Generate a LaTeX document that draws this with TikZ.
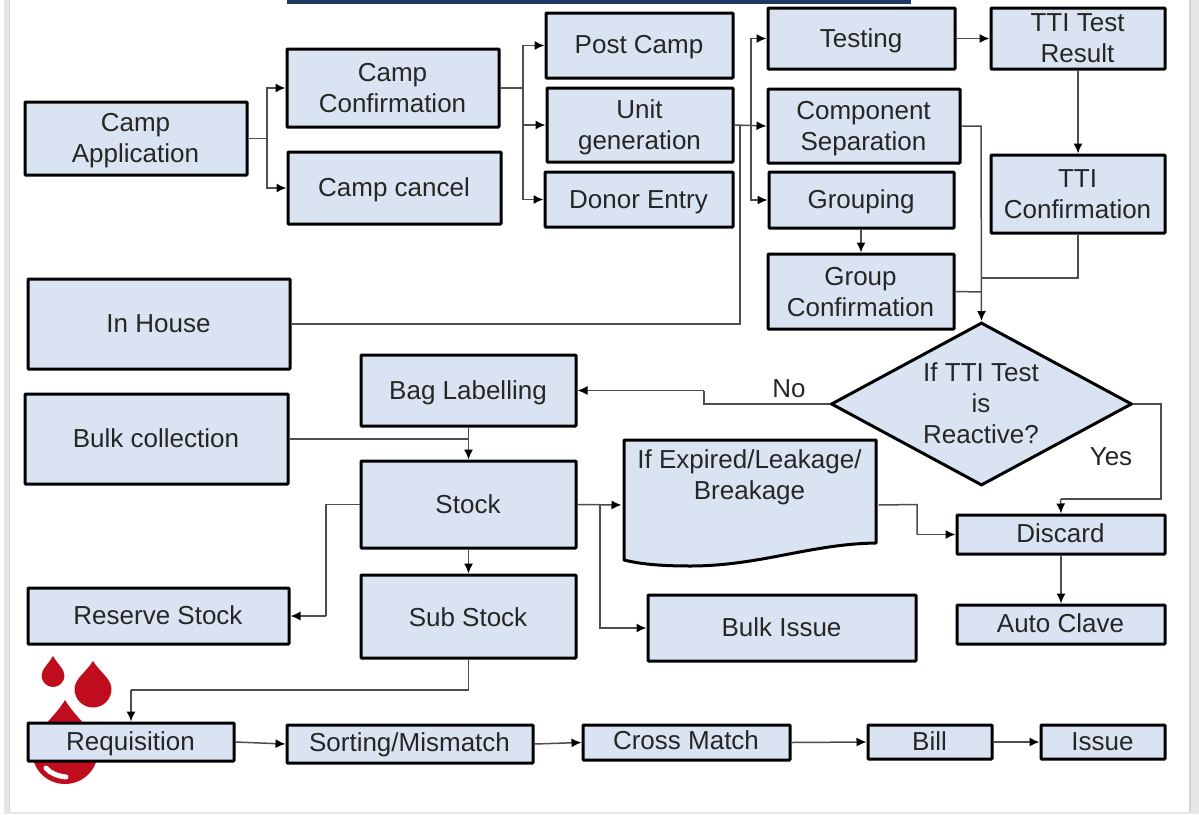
\documentclass[tikz,border=0pt]{standalone}
\usepackage{fontspec}
\setmainfont{Liberation Sans}
\usetikzlibrary{shapes.geometric,arrows.meta}
\definecolor{boxfill}{HTML}{DAE3F1}
\definecolor{blood}{HTML}{C00D1E}
\definecolor{navy}{HTML}{1F3864}
\definecolor{edge}{HTML}{E6E6E6}
\definecolor{edgedark}{HTML}{D4D4D4}
\definecolor{wire}{HTML}{4D4D4D}
\newcommand{\tx}[2]{\kern-1pt\raisebox{\dimexpr -9.3pt - #1pt\relax}[0pt][0pt]{\begin{tabular}{@{}c@{}}#2\end{tabular}}}
\newcommand{\bx}[7][0]{%
  \pgfmathsetmacro{\mycx}{(#4+#6)/2}%
  \pgfmathsetmacro{\mycy}{(#5+#7)/2}%
  \pgfmathsetmacro{\myw}{#6-#4}%
  \pgfmathsetmacro{\myh}{#7-#5}%
  \node[flowbox,minimum width=\myw pt,minimum height=\myh pt] (#2) at (\mycx,\mycy) {\tx{#1}{#3}};}
\newcommand{\drop}[4]{% x, top y, radius, centre y
  \fill[blood] (#1,#2) .. controls (#1+0.35*#3,#2+0.38*#4-0.38*#2) and (#1+#3,#4-0.55*#3) .. (#1+#3,#4)
    arc[start angle=0,end angle=-180,x radius=#3,y radius=-#3]
    .. controls (#1-#3,#4-0.55*#3) and (#1-0.35*#3,#2+0.38*#4-0.38*#2) .. (#1,#2) -- cycle;}
\tikzset{
  flowbox/.style={draw=black,fill=boxfill,line width=3pt,rounded corners=0.8pt,inner sep=0pt,
    text=black!85,font=\fontsize{26}{31}\selectfont},
  conn/.style={draw=wire,line width=1.5pt,-{Latex[length=10pt,width=9pt,black]}},
  wireonly/.style={draw=wire,line width=1.5pt},
  tag/.style={text=black!85,font=\fontsize{26}{31}\selectfont,inner sep=0pt}
}
\begin{document}
\begin{tikzpicture}[x=1pt,y=-1pt]
\useasboundingbox (0,0) rectangle (1199,814);
\fill[white] (0,0) rectangle (1199,814);
\fill[edge] (4,0) rectangle (10,814);
\fill[edgedark] (8.5,0) rectangle (10,812);
\fill[edge] (4,812) rectangle (1199,814);
\fill[edge] (1189,0) rectangle (1199,814);
\fill[edgedark] (1189,0) rectangle (1190.5,812);
\fill[navy] (287,0) rectangle (911,4);
% blood drops
\drop{53}{656}{11.5}{675.5}
\drop{93}{661}{18.5}{689}
\drop{65}{700}{33}{751}
\draw[white,line width=5pt,line cap=round] (46,768) .. controls (50,773) and (57,776) .. (66,777);
% boxes
\bx[-1]{ca}{Camp\\Application}{25}{102}{247}{175}
\bx{cc}{Camp\\Confirmation}{287}{49}{499}{127}
\bx[-1]{cx}{Camp cancel}{288}{152}{501}{224}
\bx[-1]{pc}{Post Camp}{546}{13}{733}{78}
\bx[-0.5]{ug}{Unit\\generation}{547}{88}{733}{162}
\bx{de}{Donor Entry}{545}{172}{733}{227}
\bx{te}{Testing}{768}{8}{955}{69}
\bx[-1]{tr}{TTI Test\\Result}{991}{8}{1165}{69}
\bx{cs}{Component\\Separation}{768}{89}{960}{163}
\bx[-1]{gr}{Grouping}{769}{172}{954}{228}
\bx{gc}{Group\\Confirmation}{768}{254}{954}{329}
\bx{tc}{TTI\\Confirmation}{991}{155}{1165}{233}
\bx[-1]{ih}{In House}{28}{279}{290}{369}
\bx{bl}{Bag Labelling}{361}{355}{576}{426}
\bx[-1]{bc}{Bulk collection}{25}{394}{288}{484}
\bx{st}{Stock}{361}{461}{576}{548}
\bx[-1]{di}{Discard}{957}{515}{1165}{554}
\bx[-1]{ac}{Auto Clave}{957}{605}{1165}{644}
\bx[-1]{rs}{Reserve Stock}{28}{588}{289}{644}
\bx[1]{ss}{Sub Stock}{361}{575}{576}{658}
\bx[-1]{bi}{Bulk Issue}{648}{595}{916}{661}
\bx[-1]{rq}{Requisition}{28}{723}{234}{761}
\bx[-2]{sm}{Sorting/Mismatch}{287}{725}{533}{763}
\bx[-2]{cm}{Cross Match}{583}{725}{790}{760}
\bx[-1]{bb}{Bill}{868}{725}{992}{759}
\bx[-1]{is}{Issue}{1041}{725}{1165}{759}
% document shape
\draw[fill=boxfill,line width=3pt,line join=round] (624,440) -- (876,440) -- (876,543)
  .. controls (810,544) and (760,566) .. (690,566) .. controls (660,566) and (640,564) .. (624,560) -- cycle;
\node[flowbox,draw=none,fill=none,minimum width=254pt,minimum height=132pt] (dc) at (750,505)
  {\tx{-30.5}{If Expired/Leakage/\\Breakage}};
% decision
\node[flowbox,diamond,aspect=1.86,minimum width=301pt,minimum height=163pt,rounded corners=0pt] (rx) at (981.5,404)
  {\tx{-0.5}{If TTI Test\\is\\Reactive?}};
% labels
\node[tag] (no) at (789,389) {No};
\node[tag] (yes) at (1111,457) {Yes};
% joints
\coordinate (j1) at (267,138.5);
\coordinate (j2) at (523,88);
\coordinate (j3) at (751,125);
\coordinate (j4) at (740,125);
\coordinate (j5) at (981,126);
\coordinate (j6) at (981,278);
\coordinate (j7) at (981,292);
\coordinate (j8) at (704,404);
\coordinate (j9) at (704,390.5);
\coordinate (j10) at (1161,499);
\coordinate (j11) at (1161,404);
\coordinate (j12) at (1060.5,499);
\coordinate (j13) at (468.5,439);
\coordinate (j14) at (600,504.5);
\coordinate (j15) at (917,504.5);
\coordinate (j16) at (917,534.5);
\coordinate (j17) at (326,504.5);
\coordinate (j18) at (326,616);
\coordinate (j19) at (468.5,690);
\coordinate (j20) at (131,690);
% connectors
\draw[wireonly] (ca.east) -- (j1);
\draw[conn] (j1) |- (cc.west);
\draw[conn] (j1) |- (cx.west);
\draw[wireonly] (cc.east) -- (j2);
\draw[conn] (j2) |- (pc.west);
\draw[conn] (j2) |- (ug.west);
\draw[conn] (j2) |- (de.west);
\draw[conn] (ug.east) -- (cs.west);
\draw[conn] (j3) |- (te.west);
\draw[conn] (j3) |- (gr.west);
\draw[wireonly] (ih.east) -| (j4);
\draw[conn] (te.east) -- (tr.west);
\draw[conn] (tr.south -| tc.north) -- (tc.north);
\draw[conn] (cs.east) -| (j5) -- (rx.north);
\draw[wireonly] (gc.east) -- (j7);
\draw[wireonly] (tc.south) |- (j6);
\draw[conn] (gr.south -| gc.north) -- (gc.north);
\draw[wireonly] (rx.west) -- (j8) -- (j9);
\draw[conn] (j9) -- (bl.east);
\draw[wireonly] (rx.east) -- (j11) -- (j10) -- (j12);
\draw[conn] (j12) -- (di.north);
\draw[conn] (bl.south) -- (st.north);
\draw[wireonly] (bc.east |- j13) -- (j13);
\draw[conn] (st.east) -- (dc.west);
\draw[conn] (j14) |- (bi.west);
\draw[wireonly] (dc.east) -- (j15) -- (j16);
\draw[conn] (j16) -- (di.west);
\draw[conn] (di.south) -- (ac.north);
\draw[wireonly] (st.west) -- (j17) -- (j18);
\draw[conn] (j18) -- (rs.east);
\draw[conn] (st.south) -- (ss.north);
\draw[wireonly] (ss.south) -- (j19) -- (j20);
\draw[conn] (j20) -- (rq.north -| j20);
\draw[conn] (rq.east) -- (sm.west);
\draw[conn] (sm.east) -- (cm.west);
\draw[conn] (cm.east) -- (bb.west);
\draw[conn] (bb.east) -- (is.west);
\end{tikzpicture}
\end{document}
